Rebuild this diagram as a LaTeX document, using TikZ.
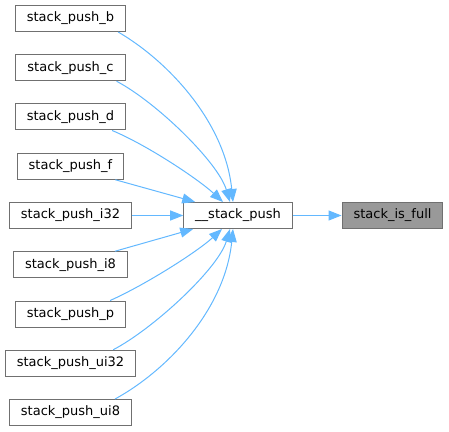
\documentclass[tikz,border=0pt]{standalone}
\usepackage{fontspec}
\setmainfont{DejaVu Sans}
\usetikzlibrary{calc,arrows.meta}
\definecolor{edgeblue}{HTML}{63B8FF}
\definecolor{boxborder}{HTML}{707070}
\definecolor{boxfill}{HTML}{999999}
\tikzset{
  fn/.style={draw=boxborder, fill=white, line width=1pt, inner xsep=11.5pt, inner ysep=0pt,
    minimum height=26pt, font=\fontsize{13}{15}\selectfont, anchor=center},
  fnsel/.style={fn, fill=boxfill},
  call/.style={draw=edgeblue, line width=1pt, -{Triangle[length=13pt,width=10pt]}}
}
\begin{document}
\begin{tikzpicture}[x=1pt,y=1pt]
\useasboundingbox (0,0) rectangle (449,431);
\node[fn] (b) at (70.5,412.5) {stack\_push\_b};
\node[fn] (c) at (70.5,363.25) {stack\_push\_c};
\node[fn] (d) at (70.5,314) {stack\_push\_d};
\node[fn] (f) at (70.5,264.75) {stack\_push\_f};
\node[fn] (i32) at (70.5,215.5) {stack\_push\_i32};
\node[fn] (i8) at (70.5,166.25) {stack\_push\_i8};
\node[fn] (p) at (70.5,117) {stack\_push\_p};
\node[fn] (ui32) at (70.5,67.75) {stack\_push\_ui32};
\node[fn] (ui8) at (70.5,18.5) {stack\_push\_ui8};
\node[fn] (sp) at (238,215.5) {\_\_stack\_push};
\node[fnsel] (full) at (392.5,215.5) {stack\_is\_full};

\draw[call] ($(b.south east)+(-8,0)$) .. controls (168,370) and (225,309) .. ($(sp.north)+(-5,0)$);
\draw[call] ($(c.south east)+(-9,0)$) .. controls (156,329) and (218,269) .. ($(sp.north)+(-8,0)$);
\draw[call] ($(d.south east)+(-14,0)$) .. controls (147,286) and (198,252) .. ($(sp.north)+(-15,0)$);
\draw[call] ($(f.south east)+(-9,0)$) -- ($(sp.north west)+(12,0)$);
\draw[call] (i32.east) -- (sp.west);
\draw[call] ($(i8.north east)+(-13,0)$) -- ($(sp.south west)+(10,0)$);
\draw[call] ($(p.north east)+(-16,0)$) .. controls (145,146) and (197,179) .. ($(sp.south)+(-16,0)$);
\draw[call] ($(ui32.north east)+(-23,0)$) .. controls (153,102) and (218,162) .. ($(sp.south)+(-8,0)$);
\draw[call] ($(ui8.north east)+(-17,0)$) .. controls (168,61) and (225,122) .. ($(sp.south)+(-5,0)$);
\draw[call] (sp.east) -- (full.west);
\end{tikzpicture}
\end{document}
